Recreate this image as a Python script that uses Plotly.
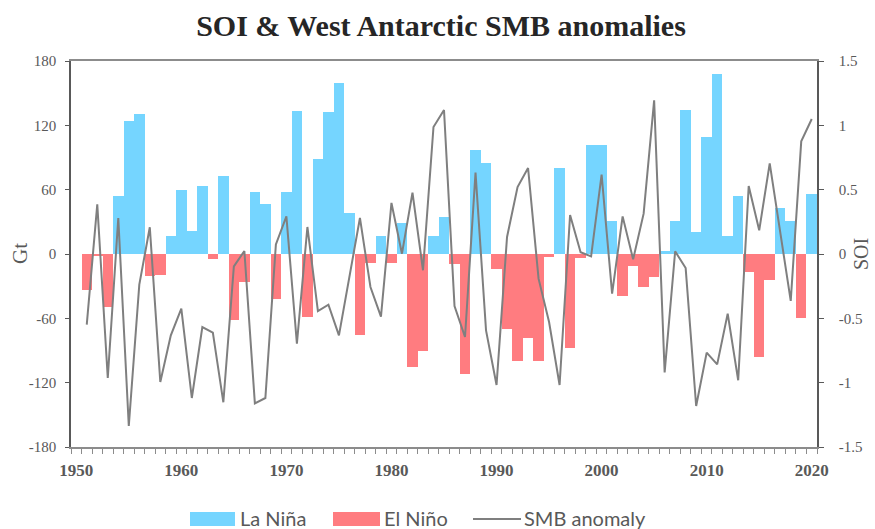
import plotly.graph_objects as go

# Years (annual values), SOI index and West Antarctic SMB anomaly (Gt)
years = list(range(1951, 2021))

soi = [
    -0.28, -0.01, -0.41, 0.45, 1.03, 1.09, -0.17, -0.16, 0.14, 0.50,
    0.18, 0.53, -0.04, 0.61, -0.51, -0.22, 0.48, 0.39, -0.35, 0.48,
    1.11, -0.49, 0.74, 1.10, 1.33, 0.32, -0.63, -0.07, 0.14, -0.07,
    0.24, -0.88, -0.75, 0.14, 0.29, -0.08, -0.93, 0.81, 0.71, -0.12,
    -0.58, -0.83, -0.65, -0.83, -0.02, 0.67, -0.73, -0.03, 0.85, 0.85,
    0.26, -0.33, -0.09, -0.26, -0.18, 0.02, 0.26, 1.12, 0.17, 0.91,
    1.40, 0.14, 0.45, -0.14, -0.80, -0.20, 0.36, 0.26, -0.50, 0.47,
]

smb = [
    -65.9, 46.3, -115.6, 33.6, -160.4, -28.6, 24.9, -119.4, -75.9, -51.0,
    -134.3, -68.1, -73.4, -138.3, -11.5, 2.8, -139.3, -134.3, 9.0, 35.1,
    -83.6, 25.2, -53.2, -47.3, -75.9, -21.0, 33.6, -30.8, -58.4, 47.6,
    0.3, 57.2, -15.2, 118.4, 134.3, -48.5, -77.4, 75.9, -71.2, -122.2,
    15.9, 62.5, 80.2, -23.0, -63.4, -122.2, 36.4, 1.6, -2.2, 74.0,
    -37.0, 35.1, -5.0, 37.6, 143.3, -110.4, 2.5, -13.1, -141.8, -92.0,
    -102.9, -55.6, -117.8, 63.4, 22.1, 84.6, 20.0, -43.8, 105.1, 125.9,
]

x_tick_years = [1950, 1960, 1970, 1980, 1990, 2000, 2010, 2020]
gt_ticks = [180, 120, 60, 0, -60, -120, -180]
soi_ticks = [1.5, 1, 0.5, 0, -0.5, -1, -1.5]

BLUE = "#75D5FF"
RED = "#FF7C80"
LINE = "#7F7F7F"
TXT = "#595959"
SERIF = "Liberation Serif"

la_nina_x = [y for y, v in zip(years, soi) if v > 0]
la_nina_y = [v for v in soi if v > 0]
el_nino_x = [y for y, v in zip(years, soi) if v < 0]
el_nino_y = [v for v in soi if v < 0]

fig = go.Figure()
fig.add_trace(go.Bar(x=la_nina_x, y=la_nina_y, width=1, marker=dict(color=BLUE, line_width=0),
                     name="La Niña", yaxis="y", showlegend=False))
fig.add_trace(go.Bar(x=el_nino_x, y=el_nino_y, width=1, marker=dict(color=RED, line_width=0),
                     name="El Niño", yaxis="y", showlegend=False))
fig.add_trace(go.Scatter(x=years, y=smb, mode="lines", line=dict(color=LINE, width=2),
                         name="SMB anomaly", yaxis="y2", showlegend=False))

W, H = 875, 529
L, R, T, B = 71, 58, 61, 82


def px(xp):
    return (xp - L) / (W - L - R)


def py(yp):
    return (H - B - yp) / (H - T - B)


fig.update_layout(
    width=W, height=H,
    margin=dict(l=L, r=R, t=T, b=B),
    paper_bgcolor="white", plot_bgcolor="white",
    barmode="overlay", bargap=0,
    title=dict(text="<b>SOI & West Antarctic SMB anomalies</b>", x=441 / W, xanchor="center",
               xref="container", y=1 - 25 / H, yref="container", yanchor="middle",
               font=dict(family=SERIF, size=30, color="#262626")),
    xaxis=dict(range=[1949.5, 2020.5], tickmode="array", tickvals=x_tick_years,
               ticktext=[str(v) for v in x_tick_years], ticks="outside", ticklen=7,
               tickcolor="rgba(0,0,0,0)",
               tickfont=dict(family=SERIF, size=17, color=TXT, weight="bold"),
               showline=True, linecolor="#8C8C8C", linewidth=1.5, mirror=True,
               showgrid=False, zeroline=False,
               minor=dict(tickmode="linear", tick0=1949.5, dtick=1, ticks="outside",
                          ticklen=5, tickcolor="#8C8C8C", tickwidth=1, showgrid=False)),
    yaxis=dict(range=[-1.5, 1.5], side="right", tickmode="array", tickvals=soi_ticks,
               ticktext=[("%g" % v).replace("\u2212", "-") for v in soi_ticks],
               ticks="outside", ticklen=5, tickcolor="#595959",
               ticklabelstandoff=12,
               tickfont=dict(family=SERIF, size=15, color=TXT),
               showline=True, linecolor="#595959", linewidth=1.5,
               showgrid=False, zeroline=False),
    yaxis2=dict(range=[-180, 180], side="left", overlaying="y", anchor="x",
                tickmode="array", tickvals=gt_ticks, ticktext=[str(v) for v in gt_ticks],
                ticks="outside", ticklen=4, tickcolor="#595959",
                ticklabelstandoff=6,
                tickfont=dict(family=SERIF, size=15, color=TXT),
                showline=True, linecolor="#595959", linewidth=1.5,
                showgrid=False, zeroline=False),
)

# Axis titles
fig.add_annotation(text="Gt", x=px(20), y=py(254), xref="paper", yref="paper", showarrow=False,
                   xanchor="center", yanchor="middle",
                   textangle=-90, font=dict(family=SERIF, size=21, color=TXT))
fig.add_annotation(text="SOI", x=px(861), y=py(254), xref="paper", yref="paper", showarrow=False,
                   xanchor="center", yanchor="middle",
                   textangle=-90, font=dict(family=SERIF, size=20, color=TXT))

# Legend drawn beneath the plot
LEG_FONT = dict(family="Lato", size=20, color=TXT)
ly = 518
fig.add_shape(type="rect", xref="paper", yref="paper", x0=px(190), x1=px(235), y0=py(512), y1=py(526),
              fillcolor=BLUE, line_width=0)
fig.add_annotation(text="La Niña", x=px(238), y=py(ly), xref="paper", yref="paper", showarrow=False,
                   xanchor="left", yanchor="middle", font=LEG_FONT)
fig.add_shape(type="rect", xref="paper", yref="paper", x0=px(333), x1=px(380), y0=py(512), y1=py(526),
              fillcolor=RED, line_width=0)
fig.add_annotation(text="El Niño", x=px(382), y=py(ly), xref="paper", yref="paper", showarrow=False,
                   xanchor="left", yanchor="middle", font=LEG_FONT)
fig.add_shape(type="line", xref="paper", yref="paper", x0=px(473), x1=px(521), y0=py(519), y1=py(519),
              line=dict(color=LINE, width=2))
fig.add_annotation(text="SMB anomaly", x=px(522), y=py(ly), xref="paper", yref="paper", showarrow=False,
                   xanchor="left", yanchor="middle", font=LEG_FONT)

fig.write_html("out.html")
